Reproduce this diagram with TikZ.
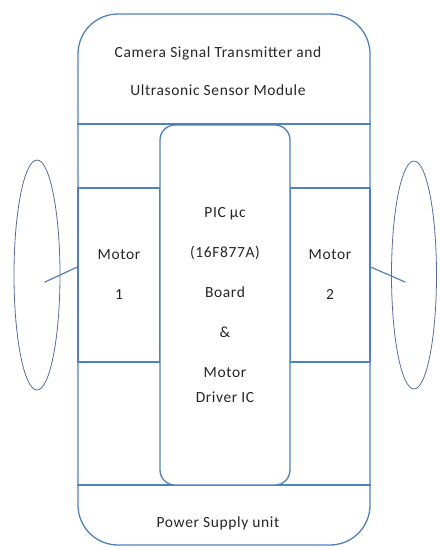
\documentclass[tikz,border=0pt]{standalone}
\usepackage{fontspec}
\setmainfont{Carlito}
\newfontfamily\widefont{Carlito}[LetterSpace=4]
\usetikzlibrary{shapes.geometric}
\definecolor{frameblue}{RGB}{79,129,189}
\definecolor{wheelblue}{RGB}{88,108,158}

\begin{document}
\begin{tikzpicture}[x=1pt,y=-1pt,line cap=round,line join=round,
  part/.style={draw=frameblue,line width=1.3pt,inner sep=0pt},
  wheel/.style={ellipse,draw=wheelblue,line width=0.8pt,inner sep=0pt},
  axle/.style={draw=frameblue,line width=1.2pt},
  txt/.style={font=\widefont\fontsize{15.5}{19}\selectfont,text=black!85,align=center}]
\useasboundingbox (0,0) rectangle (441,547);
% chassis and its two dividers
\node[part,rounded corners=40pt,minimum width=292pt,minimum height=531pt] (body) at (224,279.5) {};
\draw[part] (body.west |- 0,124) -- (body.east |- 0,124);
\draw[part] (body.west |- 0,485) -- (body.east |- 0,485);
\node[txt] (cam) at (218,71) {Camera Signal Transmitter and\\[19pt]Ultrasonic Sensor Module};
\node[txt] (psu) at (218,523) {Power Supply unit};
% motors and controller
\node[part,txt,minimum width=82pt,minimum height=174pt] (m1) at (119,275) {Motor\\[21pt]1};
\node[part,txt,minimum width=80pt,minimum height=174pt] (m2) at (330,275) {Motor\\[21pt]2};
\node[part,txt,fill=white,rounded corners=15pt,minimum width=130pt,minimum height=360pt] (pic) at (225,305) {PIC µc\\[21pt](16F877A)\\[21pt]Board\\[21pt]\&\\[21pt]Motor\\[6pt]Driver IC};
% wheels
\node[wheel,minimum width=46pt,minimum height=230pt] (w1) at (37,275) {};
\node[wheel,minimum width=45pt,minimum height=228pt] (w2) at (414,275) {};
\coordinate (hub1) at (45,282);
\coordinate (hub2) at (405,282);
\draw[axle] (hub1) -- ([yshift=8pt]m1.west);
\draw[axle] ([yshift=8pt]m2.east) -- (hub2);
\end{tikzpicture}
\end{document}
